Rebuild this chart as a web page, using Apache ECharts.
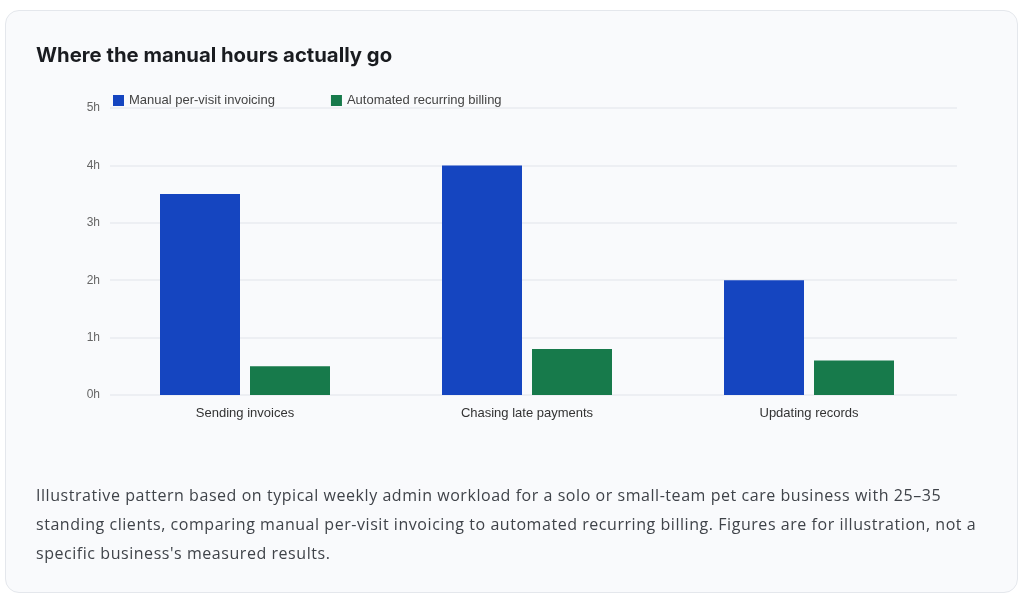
<!DOCTYPE html>
<html>
<head>
<meta charset="utf-8">
<script src="https://cdn.jsdelivr.net/npm/echarts@6/dist/echarts.min.js"></script>
<style>
  html, body { margin: 0; padding: 0; background: #ffffff; width: 1024px; height: 604px; overflow: hidden; }
  #card { position: absolute; left: 5px; top: 10px; width: 1011px; height: 581px; border: 1px solid #e4e7ec; border-radius: 14px; background: #f9fafc; }
  #chart { position: absolute; left: 0; top: 0; width: 1024px; height: 604px; }
  #caption { position: absolute; left: 36px; top: 481px; font-family: "Open Sans", "Noto Sans", sans-serif; font-size: 16px; letter-spacing: 0.55px; line-height: 29px; color: #3f4349; white-space: nowrap; }
</style>
</head>
<body>
<div id="card"></div>
<div id="chart"></div>
<div id="caption">Illustrative pattern based on typical weekly admin workload for a solo or small-team pet care business with 25–35<br>standing clients, comparing manual per-visit invoicing to automated recurring billing. Figures are for illustration, not a<br>specific business's measured results.</div>
<script>
const titleText = "Where the manual hours actually go";
const categories = ["Sending invoices", "Chasing late payments", "Updating records"];
const seriesNames = ["Manual per-visit invoicing", "Automated recurring billing"];
const manualHours = [3.5, 4.0, 2.0];
const automatedHours = [0.5, 0.8, 0.6];
const yTicks = [0, 1, 2, 3, 4, 5];

const chart = echarts.init(document.getElementById('chart'), null, { renderer: 'canvas' });
const labelFont = '"Liberation Sans", Arial, sans-serif';
chart.setOption({
  backgroundColor: 'transparent',
  animation: false,
  title: {
    text: titleText,
    left: 31, top: 41,
    textStyle: { fontFamily: 'Inter, "Noto Sans", sans-serif', fontSize: 20.3, fontWeight: 700, color: '#1a1c20' }
  },
  legend: {
    data: seriesNames,
    left: 108, top: 89,
    icon: 'rect', itemWidth: 11, itemHeight: 11, itemGap: 56,
    textStyle: { fontFamily: labelFont, fontSize: 13, color: '#444' }
  },
  grid: [
    { left: 110, right: 67, top: 108, bottom: 209 },
    { left: 104, right: 74, top: 108, bottom: 209 }
  ],
  xAxis: [
    { type: 'category', gridIndex: 0, data: categories, show: false },
    { type: 'category', gridIndex: 1, data: categories,
      axisLine: { show: false }, axisTick: { show: false },
      axisLabel: { margin: 12, fontFamily: labelFont, fontSize: 13, color: '#333' } }
  ],
  yAxis: [
    { type: 'value', gridIndex: 0, min: yTicks[0], max: yTicks[yTicks.length - 1], interval: 1,
      axisLine: { show: false }, axisTick: { show: false },
      axisLabel: { margin: 10, fontFamily: labelFont, fontSize: 12, color: '#666', formatter: v => v + 'h' },
      splitLine: { lineStyle: { color: '#e9ebf0', width: 1.5 } } },
    { type: 'value', gridIndex: 1, min: yTicks[0], max: yTicks[yTicks.length - 1], interval: 1, show: false, splitLine: { show: false } }
  ],
  series: [
    { name: seriesNames[0], type: 'bar', xAxisIndex: 1, yAxisIndex: 1, data: manualHours,
      barWidth: 80, barGap: '12.5%', itemStyle: { color: '#1545c0' } },
    { name: seriesNames[1], type: 'bar', xAxisIndex: 1, yAxisIndex: 1, data: automatedHours,
      barWidth: 80, barGap: '12.5%', itemStyle: { color: '#177a4b' } }
  ]
});
</script>
</body>
</html>
